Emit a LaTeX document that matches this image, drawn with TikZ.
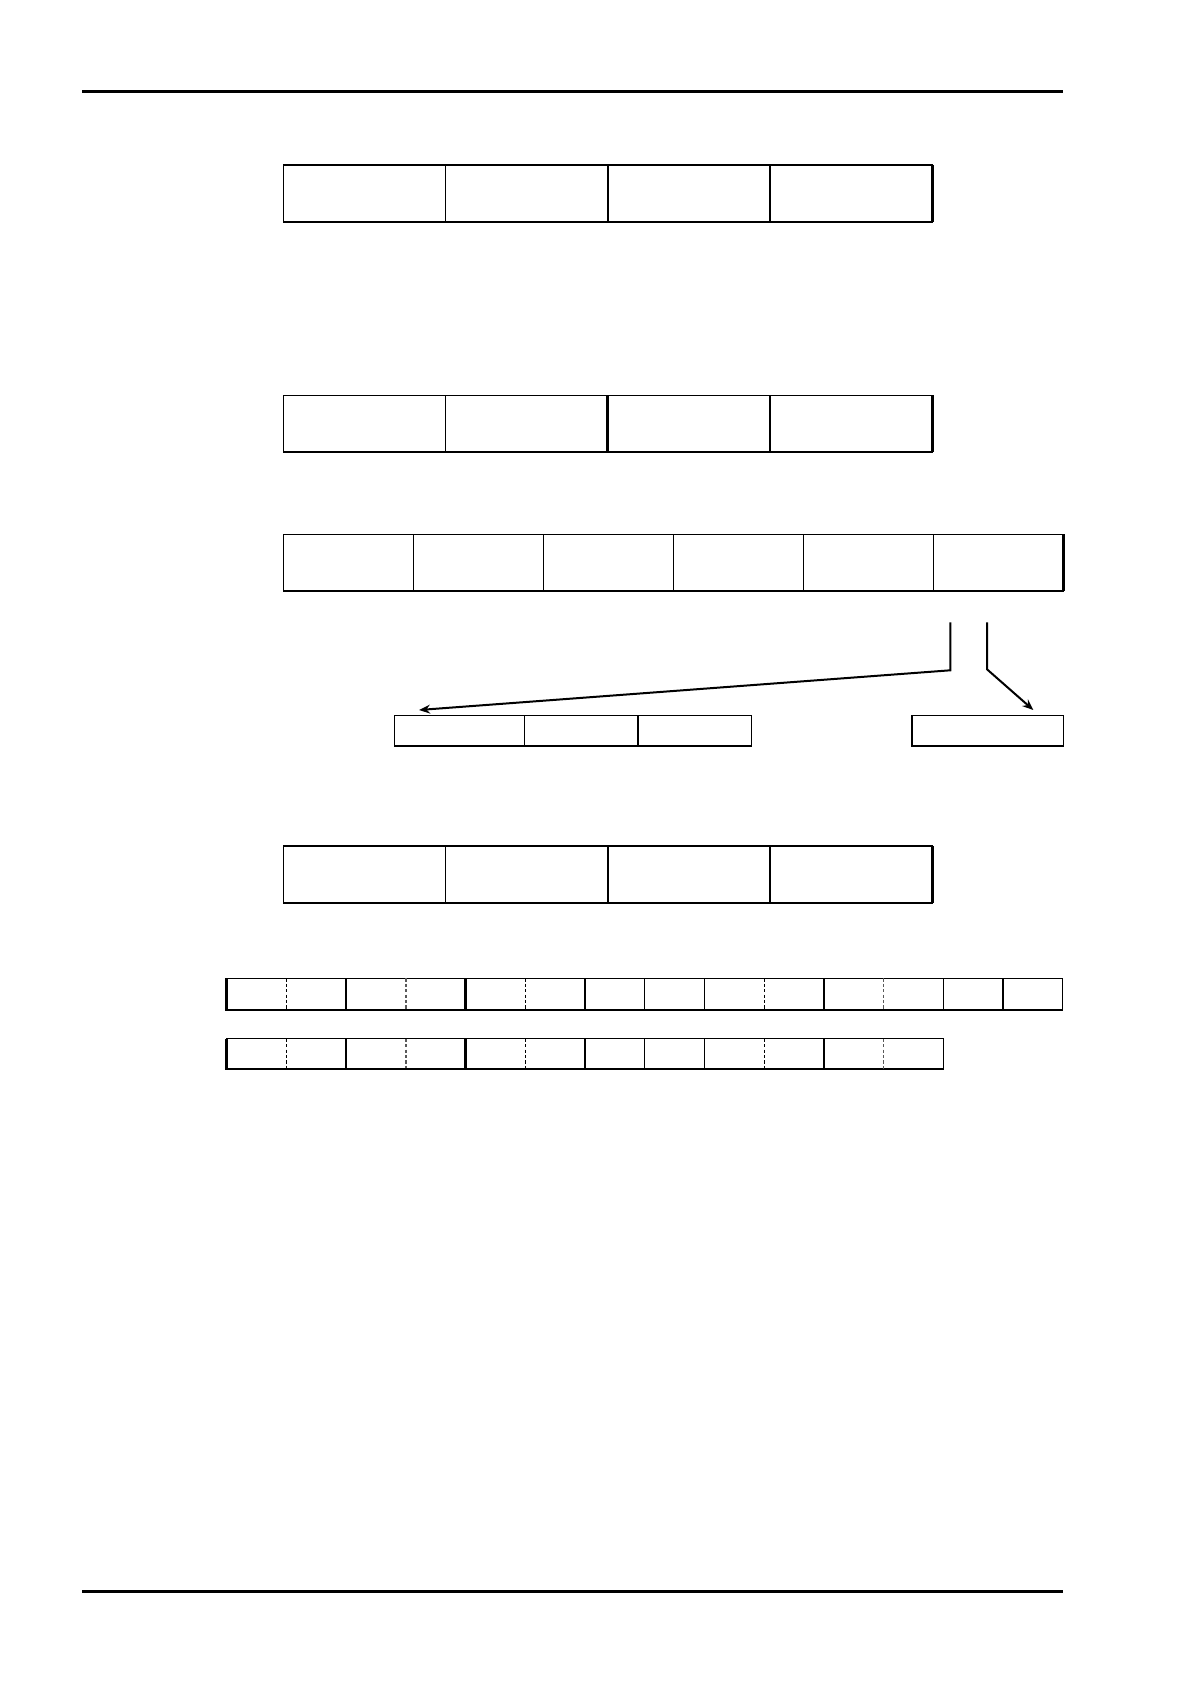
\documentclass[tikz,border=0pt]{standalone}
\usetikzlibrary{arrows.meta}
\begin{document}
\begin{tikzpicture}[x=0.5pt,y=-0.5pt,
  cell/.style={draw, rectangle, inner sep=0pt, outer sep=0pt, anchor=north west, line width=0.7pt},
  wh/.style 2 args={minimum width=#1*0.5pt, minimum height=#2*0.5pt},
  heavy/.style={line width=1.1pt},
  heavier/.style={line width=1.45pt},
  rule/.style={line width=1.4pt},
  dashdiv/.style={dash pattern=on 1.6pt off 1.1pt, line width=0.65pt},
  link/.style={line width=1pt},
  tip/.style={-{Stealth[length=5.5pt,width=4.4pt]}}]
\useasboundingbox (0,0) rectangle (1191,1684);

% page rules
\draw[rule] (82,91.3) -- (1063,91.3);
\draw[rule] (82,1591.3) -- (1063,1591.3);

% row 1
\foreach \i in {0,...,3}
  \node[cell, wh={162.25}{57}] (ra\i) at ({283.3+162.25*\i},165) {};
\draw[heavy] (ra0.north west) -- (ra3.north east);
\draw[heavier] (ra0.south west) -- (ra3.south east);
\draw[heavier] (ra3.north east) -- (ra3.south east);
\draw[heavy] (ra1.north east) -- (ra1.south east);
\draw[heavy] (ra2.north east) -- (ra2.south east);

% row 2
\foreach \i in {0,...,3}
  \node[cell, wh={162.25}{56.7}] (rb\i) at ({283.3+162.25*\i},395.3) {};
\draw[heavier] (rb1.north east) -- (rb1.south east);
\draw[heavier] (rb3.north east) -- (rb3.south east);
\draw[heavy] (rb0.south west) -- (rb3.south east);

% row 3
\foreach \i in {0,...,5}
  \node[cell, wh={130}{56.7}] (rc\i) at ({283.3+130*\i},534.3) {};
\draw[heavier] (rc5.north east) -- (rc5.south east);

% split boxes
\node[cell, wh={130}{30.3}] (sa0) at (394.3,715.7) {};
\node[cell, wh={113.7}{30.3}] (sa1) at (524.3,715.7) {};
\node[cell, wh={113.3}{30.3}] (sa2) at (638,715.7) {};
\draw[heavy] (sa1.north east) -- (sa1.south east);
\node[cell, wh={151.3}{30.3}] (sb0) at (912,715.7) {};

% connectors
\coordinate (s1) at (950.3,622.3);
\coordinate (k1) at (950.3,670.3);
\coordinate (t1) at (419,710);
\coordinate (s2) at (987,622.3);
\coordinate (k2) at (987,669.3);
\coordinate (t2) at (1033.3,710);
\draw[link,tip] (s1) -- (k1) -- (t1);
\draw[link,tip] (s2) -- (k2) -- (t2);

% row 4
\foreach \i in {0,...,3}
  \node[cell, wh={162.25}{57}] (rd\i) at ({283.3+162.25*\i},846) {};
\draw[heavy] (rd0.north west) -- (rd3.north east);
\draw[heavier] (rd0.south west) -- (rd3.south east);
\draw[heavier] (rd3.north east) -- (rd3.south east);
\draw[heavy] (rd1.north east) -- (rd1.south east);
\draw[heavy] (rd2.north east) -- (rd2.south east);

% byte row A
\node[cell, wh={119.44}{31.7}] (ga1) at (226.7,978.3) {};
\node[cell, wh={119.44}{31.7}] (ga2) at (346.14,978.3) {};
\node[cell, wh={119.44}{31.7}] (ga3) at (465.58,978.3) {};
\node[cell, wh={59.72}{31.7}] (ga4) at (585.02,978.3) {};
\node[cell, wh={59.72}{31.7}] (ga5) at (644.74,978.3) {};
\node[cell, wh={119.44}{31.7}] (ga6) at (704.46,978.3) {};
\node[cell, wh={119.44}{31.7}] (ga7) at (823.9,978.3) {};
\node[cell, wh={59.72}{31.7}] (ga8) at (943.34,978.3) {};
\node[cell, wh={59.72}{31.7}] (ga9) at (1003.06,978.3) {};
\draw[dashdiv] (ga1.north) -- (ga1.south);
\draw[dashdiv, black!65] (ga2.north) -- (ga2.south);
\draw[dashdiv] (ga3.north) -- (ga3.south);
\draw[dashdiv] (ga6.north) -- (ga6.south);
\draw[dashdiv, black!65] (ga7.north) -- (ga7.south);
\draw[heavier] (ga1.north west) -- (ga1.south west) -- (ga9.south east);
\draw[heavy] (ga2.north east) -- (ga2.south east);

% byte row B
\node[cell, wh={119.44}{30.3}] (gb1) at (226.7,1038.7) {};
\node[cell, wh={119.44}{30.3}] (gb2) at (346.14,1038.7) {};
\node[cell, wh={119.44}{30.3}] (gb3) at (465.58,1038.7) {};
\node[cell, wh={59.72}{30.3}] (gb4) at (585.02,1038.7) {};
\node[cell, wh={59.72}{30.3}] (gb5) at (644.74,1038.7) {};
\node[cell, wh={119.44}{30.3}] (gb6) at (704.46,1038.7) {};
\node[cell, wh={119.44}{30.3}] (gb7) at (823.9,1038.7) {};
\draw[dashdiv] (gb1.north) -- (gb1.south);
\draw[dashdiv, black!65] (gb2.north) -- (gb2.south);
\draw[dashdiv] (gb3.north) -- (gb3.south);
\draw[dashdiv] (gb6.north) -- (gb6.south);
\draw[dashdiv, black!65] (gb7.north) -- (gb7.south);
\draw[heavier] (gb1.north west) -- (gb1.south west) -- (gb3.south east);
\draw[heavy] (gb2.north east) -- (gb2.south east);
\end{tikzpicture}
\end{document}
